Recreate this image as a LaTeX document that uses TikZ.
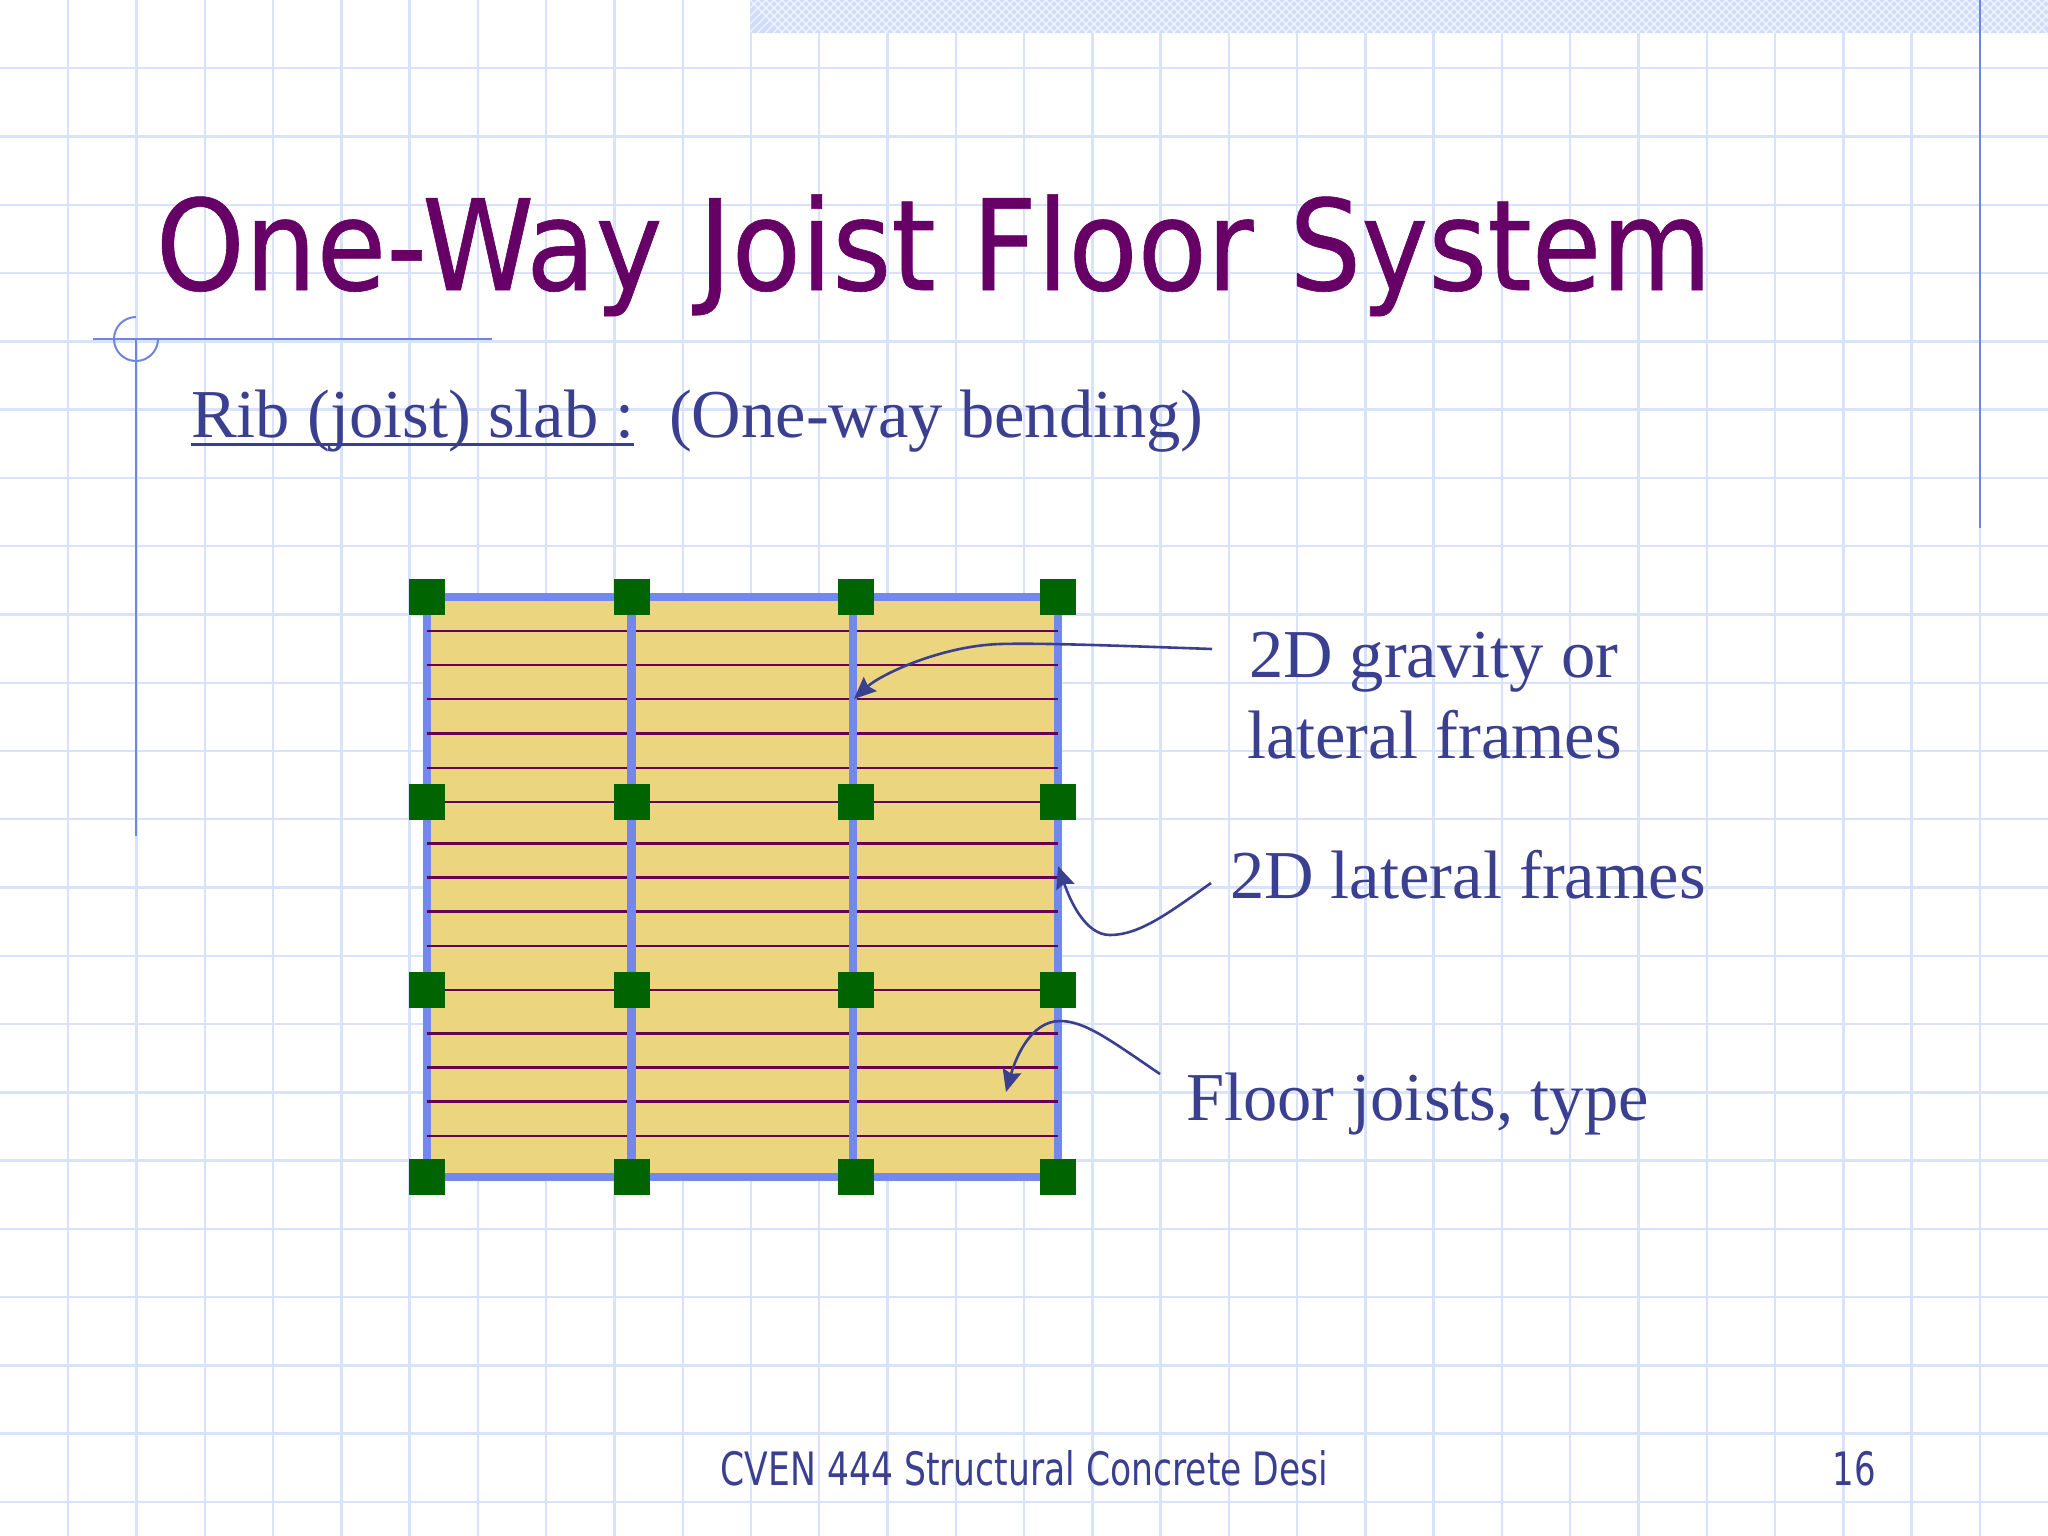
\documentclass[tikz,border=0pt]{standalone}
\usepackage{fontspec}
\setmainfont{Liberation Serif}
\newfontfamily\tahomalike{DejaVu Sans Condensed}
\newfontfamily\titlelike[BoldFont={DejaVu Sans Condensed},BoldFeatures={FakeBold=0.5}]{DejaVu Sans Condensed}
\usetikzlibrary{arrows.meta}
\definecolor{gridc}{HTML}{D8E2FA}
\definecolor{framec}{HTML}{7388EC}
\definecolor{slabc}{HTML}{EBD67F}
\definecolor{joistc}{HTML}{660055}
\definecolor{colc}{HTML}{006400}
\definecolor{textc}{HTML}{3B3F8F}
\definecolor{titlec}{HTML}{660066}
\definecolor{guidec}{HTML}{6E86E0}
\definecolor{bandc}{HTML}{CFDCFA}
\tikzset{
  x=0.01cm,y=-0.01cm,
  gridline/.style={draw=gridc,line width=0.024cm},
  guide/.style={draw=guidec,line width=0.02cm},
  frameline/.style={draw=framec,line width=0.088cm},
  joist/.style={draw=joistc,line width=0.028cm},
  column/.style={fill=colc,draw=none,minimum size=0.36cm,inner sep=0pt,outer sep=0pt,rectangle},
  leader/.style={draw=textc,line width=0.026cm,-{Stealth[length=0.22cm,width=0.19cm,inset=0.03cm]}},
  label/.style={text=textc,font=\fontsize{0.685cm}{0.685cm}\selectfont,anchor=base west,inner sep=0pt,outer sep=0pt},
  footer/.style={anchor=base west,inner sep=0pt,text=textc,font=\tahomalike\fontsize{0.46cm}{0.46cm}\selectfont},
}
\begin{document}
\begin{tikzpicture}
\useasboundingbox (0,0) rectangle (2048,1536);
\fill[white] (0,0) rectangle (2048,1536);
% grid
\foreach \k in {1,...,29}{\draw[gridline] ({\k*68.27},0) -- ({\k*68.27},1536);}
\foreach \k in {1,...,22}{\draw[gridline] (0,{\k*68.27}) -- (2048,{\k*68.27});}
% top band
\fill[bandc] (750,0) rectangle (2048,33);
\begin{scope}
\clip (750,0) rectangle (2048,33);
\foreach \k in {0,1,...,165}{
  \draw[white,line width=0.012cm,opacity=.7] ({750+\k*8},0) -- ++(33,33);
  \draw[white,line width=0.012cm,opacity=.7] ({750+\k*8},0) -- ++(-33,33);
}
\end{scope}
% guides
\draw[guide] (1980,0) -- (1980,528);
\draw[guide] (136,339) -- (136,836);
\draw[guide] (93,339) -- (492,339);
\draw[guide] (136,317) arc[start angle=-90,end angle=-360,radius=22];
% slab
\fill[slabc] (427,597) rectangle (1058,1177);
\draw[frameline] (423,597) -- (1062,597);
\draw[frameline] (423,1177) -- (1062,1177);
\foreach \x in {427,1058}{\draw[frameline] (\x,597) -- (\x,1177);}
\foreach \y in {631,665,699,733.7,768,802,843.7,877.7,911.7,946,990,1033.7,1067.7,1101.7,1136}{
  \draw[joist] (427,\y) -- (1058,\y);
}
\foreach \x in {631.7,853}{\draw[frameline] (\x,597) -- (\x,1177);}
% columns
\foreach \r/\y in {a/597,b/802,c/990,d/1177}{
  \foreach \c/\x in {1/427,2/631.7,3/856.4,4/1058}{
    \node[column] (col\r\c) at (\x,\y) {};
  }
}
% text
\node[anchor=base west,inner sep=0pt,text=titlec,font=\titlelike\bfseries\fontsize{1.258cm}{1.258cm}\selectfont] (title) at (155,290) {One-Way Joist Floor System};
\node[label] (sub1) at (191,437) {Rib (joist) slab :};
\node[label] (sub2) at (669,437) {(One-way bending)};
\draw[draw=textc,line width=0.03cm] (191,444) -- (634,444);
\node[label] (l1) at (1249,677) {2D gravity or};
\node[label] (l2) at (1247,758) {lateral frames};
\node[label] (l3) at (1230,898) {2D lateral frames};
\node[label] (l4) at (1186,1120) {Floor joists, type};
\begin{scope}
\clip (700,1420) rectangle (1329,1536);
\node[footer] (foot) at (720,1485) {\scalebox{0.835}[1]{CVEN 444 Structural Concrete Desi}};
\end{scope}
\node[footer] (page) at (1832,1485) {\scalebox{0.82}[1]{16}};
% connectors
\coordinate (s1) at (1212,649);
\coordinate (t1) at (854,699);
\coordinate (s2) at (1211,883);
\coordinate (t2) at (1058,866);
\coordinate (s3) at (1160,1074);
\coordinate (t3) at (1006,1092);
\draw[leader] (s1) .. controls (1100,645) and (1040,643) .. (1000,644) .. controls (940,646) and (880,675) .. (t1);
\draw[leader] (s2) .. controls (1170,912) and (1140,935) .. (1110,935) .. controls (1085,935) and (1070,900) .. (t2);
\draw[leader] (s3) .. controls (1110,1040) and (1085,1021) .. (1060,1021) .. controls (1030,1021) and (1015,1060) .. (t3);
\end{tikzpicture}
\end{document}
